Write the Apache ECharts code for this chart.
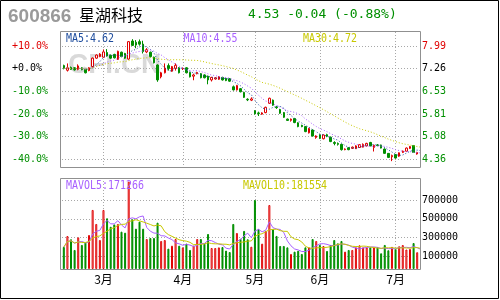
<!DOCTYPE html>
<html><head><meta charset="utf-8">
<script src="https://cdn.jsdelivr.net/npm/echarts@6/dist/echarts.min.js"></script>
<style>html,body{margin:0;padding:0;background:#fff}#c{width:500px;height:300px}</style>
</head><body><div id="c"></div><script>
// ---- data ----
const categories = [
 '02-14','02-15','02-16','02-17','02-20','02-21','02-22','02-23','02-24','02-27','02-28',
 '03-01','03-02','03-03','03-06','03-07','03-08','03-09','03-10','03-13','03-14','03-15','03-16','03-17','03-20','03-21','03-22','03-23','03-24','03-27','03-28','03-29','03-30',
 '04-03','04-04','04-06','04-07','04-10','04-11','04-12','04-13','04-14','04-17','04-18','04-19','04-20','04-21','04-23','04-24','04-25','04-26','04-27','04-28',
 '05-04','05-05','05-08','05-09','05-10','05-11','05-12','05-15','05-16','05-17','05-18','05-19','05-22','05-23','05-24','05-25','05-26','05-29',
 '06-01','06-02','06-05','06-06','06-07','06-08','06-09','06-12','06-13','06-14','06-15','06-16','06-19','06-20','06-21','06-23','06-26','06-27','06-28','06-29','06-30',
 '07-03','07-04','07-05','07-06','07-07','07-10','07-11'
];
const openPrices = [
 7.36,7.21,7.30,7.29,7.24,7.29,7.24,7.20,7.33,7.60,
 7.65,7.63,7.78,7.69,7.72,7.56,7.79,7.75,7.57,8.15,
 8.11,8.13,8.05,7.80,7.79,7.63,7.38,7.00,7.13,7.36,
 7.18,7.27,7.29,7.26,7.29,7.14,7.02,7.10,7.10,7.06,
 7.02,6.90,6.93,6.92,6.98,6.95,6.94,6.68,6.58,6.62,
 6.50,6.28,6.25,5.91,5.84,5.80,5.85,6.15,6.25,6.03,
 5.95,5.85,5.64,5.60,5.66,5.52,5.44,5.40,5.20,5.29,
 5.05,5.13,5.01,5.14,5.06,4.89,4.86,4.83,4.66,4.72,
 4.70,4.69,4.73,4.74,4.78,4.89,4.73,4.81,4.81,4.68,
 4.54,4.43,4.50,4.45,4.57,4.61,4.70,4.79,4.52,4.58
];
const closePrices = [
 7.27,7.29,7.24,7.22,7.35,7.23,7.13,7.29,7.60,7.70,
 7.73,7.80,7.67,7.60,7.61,7.82,7.65,7.60,8.13,8.01,
 8.02,8.05,7.81,7.87,7.65,7.45,6.90,7.13,7.28,7.27,
 7.33,7.37,7.13,7.27,7.13,7.00,7.06,7.14,6.97,6.97,
 6.90,6.98,6.97,7.00,6.90,6.88,6.86,6.58,6.72,6.52,
 6.34,6.26,6.29,5.81,5.82,5.84,6.02,6.31,6.09,6.01,
 5.83,5.70,5.60,5.64,5.53,5.40,5.40,5.24,5.34,5.10,
 5.10,5.02,5.13,5.09,4.92,4.86,4.83,4.66,4.68,4.66,
 4.74,4.78,4.82,4.83,4.86,4.78,4.80,4.79,4.71,4.54,
 4.41,4.47,4.39,4.56,4.61,4.71,4.76,4.57,4.57,4.53
];
const lowPrices = [
 7.24,7.17,7.22,7.20,7.21,7.21,7.11,7.18,7.30,7.58,
 7.63,7.62,7.65,7.58,7.59,7.54,7.63,7.58,7.55,7.99,
 7.92,8.00,7.75,7.76,7.62,7.43,6.84,6.95,7.11,7.20,
 7.16,7.20,7.11,7.22,7.11,6.98,6.89,7.08,6.95,6.95,
 6.76,6.85,6.91,6.90,6.88,6.86,6.84,6.56,6.56,6.50,
 6.32,6.22,6.22,5.79,5.74,5.78,5.83,6.13,6.07,5.97,
 5.81,5.68,5.58,5.56,5.51,5.38,5.38,5.22,5.18,5.08,
 5.01,5.00,4.99,5.06,4.90,4.80,4.79,4.63,4.64,4.64,
 4.68,4.68,4.72,4.73,4.76,4.77,4.60,4.77,4.70,4.53,
 4.39,4.29,4.38,4.43,4.55,4.60,4.68,4.56,4.50,4.52
];
const highPrices = [
 7.39,7.43,7.33,7.31,7.40,7.31,7.25,7.31,7.62,7.72,
 7.76,7.88,7.89,7.71,7.74,7.84,7.81,7.77,8.15,8.21,
 8.18,8.20,8.16,7.92,7.81,7.65,7.40,7.16,7.43,7.43,
 7.35,7.43,7.31,7.30,7.31,7.16,7.10,7.16,7.12,7.08,
 7.04,7.00,6.99,7.02,7.00,6.97,6.96,6.72,6.74,6.64,
 6.52,6.31,6.34,5.93,5.88,5.86,6.04,6.33,6.27,6.06,
 5.97,5.87,5.66,5.66,5.68,5.54,5.46,5.42,5.36,5.31,
 5.12,5.15,5.15,5.17,5.08,4.93,4.89,4.85,4.70,4.74,
 4.76,4.80,4.84,4.86,4.88,4.91,4.82,4.84,4.82,4.70,
 4.55,4.50,4.52,4.57,4.63,4.73,4.78,4.81,4.59,4.60
];
const volumes = [
 197000,315000,280000,165000,301000,219000,244000,326000,596000,445000,
 272000,596000,506000,415000,440000,445000,362000,351000,901000,495000,
 394000,470000,394000,283000,294000,294000,459000,262000,272000,179000,
 211000,283000,211000,193000,233000,165000,211000,283000,283000,233000,
 337000,186000,186000,193000,197000,158000,143000,445000,348000,285000,
 370000,280000,200000,703000,387000,233000,369000,649000,387000,316000,
 208000,208000,193000,122000,147000,157000,122000,193000,193000,283000,
 262000,219000,208000,154000,219000,272000,236000,262000,147000,165000,
 165000,193000,215000,193000,193000,193000,193000,193000,129000,219000,
 162000,198000,176000,205000,218210,170000,176000,240000,141000,129330
];
const monthStarts = ['03-01','04-03','05-04','06-01','07-03'];
const monthNames = ['3月','4月','5月','6月','7月'];
const baseClose = 7.26;
const priceTicks = [4.356, 5.082, 5.808, 6.534, 7.26, 7.986];
const volumeTicks = [100000, 300000, 500000, 700000];
const priceRange = [4.07, 8.44];
const volumeRange = [-40000, 940000];
const stockCode = '600866';
const stockName = '星湖科技';
const maLegend = ['MA5:4.62', 'MA10:4.55', 'MA30:4.72'];
const volLegend = ['MAVOL5:171266', 'MAVOL10:181554'];

// ---- derived ----
function movingAvg(src, n) {
  return src.map((_, i) => {
    const s = Math.max(0, i - n + 1);
    let t = 0;
    for (let k = s; k <= i; k++) t += src[k];
    return +(t / (i - s + 1)).toFixed(4);
  });
}
const RED = '#e00000', GREEN = '#008f00', GRIDC = '#a8a8a8';
const MONO = '"DejaVu Sans Mono", monospace';
const last = closePrices[closePrices.length - 1];
const prev = closePrices[closePrices.length - 2];
const chg = last - prev;
const headerText = last.toFixed(2) + ' ' + (chg >= 0 ? '+' : '') + chg.toFixed(2) +
  ' (' + (chg >= 0 ? '+' : '') + (chg / prev * 100).toFixed(2) + '%)';

function pct(v) { const r = Math.round((Number(v) / baseClose - 1) * 1000) / 10 + 0; return r; }
function levelColor(v) { const r = pct(v); return r > 0.05 ? RED : (r < -0.05 ? GREEN : '#000'); }

const candleData = openPrices.map((o, i) => [o, closePrices[i], lowPrices[i], highPrices[i]]);
const volData = volumes.map((v, i) => {
  const up = closePrices[i] >= openPrices[i];
  return { value: v, itemStyle: up ? { color: '#fff', borderColor: RED, borderWidth: 1 } : { color: GREEN, borderColor: GREEN, borderWidth: 1 } };
});

const chart = echarts.init(document.getElementById('c'), null, { renderer: 'canvas' });
const dotted = { color: GRIDC, width: 1, type: [1, 2] };
const baseX = {
  type: 'category', data: categories, boundaryGap: true,
  axisLine: { show: false },
  axisTick: { show: false, customValues: monthStarts },
  splitLine: { show: true, alignWithLabel: true, lineStyle: dotted }
};
function txt(x, y, text, font, fill, extra) {
  return Object.assign({
    type: 'text', x: x, y: y, silent: true, z: 50,
    style: { text: text, font: font, fill: fill, verticalAlign: 'middle', textVerticalAlign: 'middle', align: 'left', textAlign: 'left' }
  }, extra || {});
}
const option = {
  animation: false,
  backgroundColor: '#fff',
  grid: [
    { left: 62, top: 32, width: 357, height: 136 },
    { left: 62, top: 178, width: 357, height: 91 }
  ],
  xAxis: [
    Object.assign({}, baseX, { gridIndex: 0, axisLabel: { show: false } }),
    Object.assign({}, baseX, {
      gridIndex: 1,
      axisLabel: {
        show: true, customValues: monthStarts, margin: 4,
        formatter: v => monthNames[monthStarts.indexOf(v)],
        fontFamily: '"Noto Sans CJK SC"', fontSize: 12, color: '#000'
      }
    })
  ],
  yAxis: [
    {
      type: 'value', gridIndex: 0, position: 'left', min: priceRange[0], max: priceRange[1],
      axisLine: { show: false }, axisTick: { show: false, customValues: priceTicks },
      axisLabel: {
        customValues: priceTicks, align: 'left', margin: 50, fontFamily: MONO, fontSize: 10,
        formatter: v => { const r = pct(v); return (r >= 0 ? '+' : '') + r.toFixed(1) + '%'; },
        color: v => levelColor(v)
      },
      splitLine: { show: true, lineStyle: dotted }
    },
    {
      type: 'value', gridIndex: 0, position: 'right', min: priceRange[0], max: priceRange[1],
      axisLine: { show: false }, axisTick: { show: false, customValues: priceTicks },
      axisLabel: {
        customValues: priceTicks, margin: 3, fontFamily: MONO, fontSize: 10,
        formatter: v => Number(v).toFixed(2), color: v => levelColor(v)
      },
      splitLine: { show: false }
    },
    {
      type: 'value', gridIndex: 1, position: 'right', min: volumeRange[0], max: volumeRange[1],
      startValue: volumeRange[0],
      axisLine: { show: false }, axisTick: { show: false, customValues: volumeTicks },
      axisLabel: { customValues: volumeTicks, margin: 3, fontFamily: MONO, fontSize: 10, color: '#000', formatter: v => String(v) },
      splitLine: { show: true, lineStyle: dotted }
    }
  ],
  series: [
    {
      type: 'candlestick', xAxisIndex: 0, yAxisIndex: 0, data: candleData, barWidth: 2, z: 3,
      itemStyle: { color: '#fff', color0: GREEN, borderColor: RED, borderColor0: GREEN, borderWidth: 1 },
      silent: true
    },
    { type: 'line', xAxisIndex: 0, yAxisIndex: 0, data: movingAvg(closePrices, 5), symbol: 'none', silent: true, z: 4, lineStyle: { color: '#1c4b9c', width: 1, type: [1, 2] } },
    { type: 'line', xAxisIndex: 0, yAxisIndex: 0, data: movingAvg(closePrices, 10), symbol: 'none', silent: true, z: 4, lineStyle: { color: '#a860ff', width: 1, type: [1, 2] } },
    { type: 'line', xAxisIndex: 0, yAxisIndex: 0, data: movingAvg(closePrices, 30), symbol: 'none', silent: true, z: 4, lineStyle: { color: '#c8c800', width: 1, type: [1, 2] } },
    { type: 'bar', xAxisIndex: 1, yAxisIndex: 2, data: volData, barWidth: 2, silent: true, z: 3 },
    { type: 'line', xAxisIndex: 1, yAxisIndex: 2, data: movingAvg(volumes, 5), symbol: 'none', silent: true, z: 4, lineStyle: { color: '#a860ff', width: 1 } },
    { type: 'line', xAxisIndex: 1, yAxisIndex: 2, data: movingAvg(volumes, 10), symbol: 'none', silent: true, z: 4, lineStyle: { color: '#c8c800', width: 1 } }
  ],
  graphic: [
    { type: 'text', x: 68, y: 65, z: 0, silent: true, style: { text: 'CFI.CN', font: 'bold 28px "Liberation Sans"', fill: '#d9d9d9', verticalAlign: 'middle', textVerticalAlign: 'middle' } },
    { type: 'rect', z: 60, silent: true, shape: { x: 60.5, y: 31.5, width: 360, height: 136 }, style: { fill: 'none', stroke: '#909090', lineWidth: 1 } },
    { type: 'rect', z: 60, silent: true, shape: { x: 60.5, y: 178.5, width: 360, height: 91 }, style: { fill: 'none', stroke: '#909090', lineWidth: 1 } },
    { type: 'rect', z: 60, silent: true, shape: { x: 0.5, y: 0.5, width: 498, height: 298 }, style: { fill: 'none', stroke: '#000', lineWidth: 1 } },
    txt(8, 16.5, stockCode, 'bold 19px "Liberation Sans"', '#9a9a9a'),
    txt(79, 14.5, stockName, '16px "Noto Sans CJK SC"', '#000'),
    txt(248, 14.5, headerText, '13px ' + MONO, chg >= 0 ? RED : GREEN),
    txt(66, 38.7, maLegend[0], '12px ' + MONO, '#1c4b9c', { scaleX: 0.83 }),
    txt(183.5, 38.5, maLegend[1], '12px ' + MONO, '#a860ff', { scaleX: 0.83 }),
    txt(303, 38.5, maLegend[2], '12px ' + MONO, '#c8c800', { scaleX: 0.83 }),
    txt(66, 186.3, volLegend[0], '12px ' + MONO, '#a860ff', { scaleX: 0.83 }),
    txt(243, 186.3, volLegend[1], '12px ' + MONO, '#c8c800', { scaleX: 0.83 })
  ]
};
chart.setOption(option);
</script></body></html>
